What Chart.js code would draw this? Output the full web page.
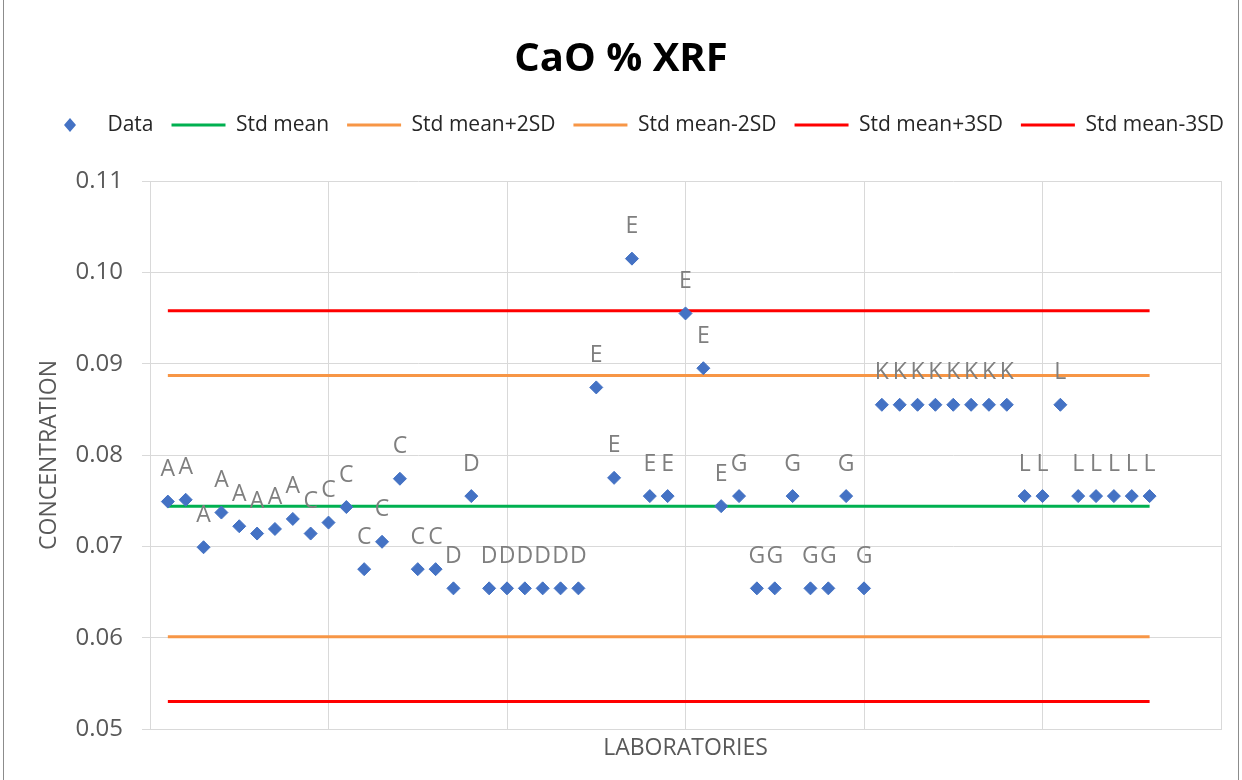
<!DOCTYPE html>
<html>
<head>
<meta charset="utf-8">
<script src="https://cdn.jsdelivr.net/npm/chart.js@4.4.0/dist/chart.umd.min.js"></script>
<style>
  html, body { margin: 0; padding: 0; background: #fff; }
</style>
</head>
<body>
<canvas id="myChart" width="1242" height="780"></canvas>
<script>
// lab code shown above each point
const labLetters = [
  "A", "A", "A", "A", "A", "A", "A", "A",
  "C", "C", "C", "C", "C", "C", "C", "C",
  "D", "D", "D", "D", "D", "D", "D", "D",
  "E", "E", "E", "E", "E", "E", "E", "E",
  "G", "G", "G", "G", "G", "G", "G", "G",
  "K", "K", "K", "K", "K", "K", "K", "K",
  "L", "L", "L", "L", "L", "L", "L", "L"
];

const concentration = [
  0.0749, 0.0751, 0.0699, 0.0737, 0.0722, 0.0714, 0.0719, 0.0730,
  0.0714, 0.0726, 0.0743, 0.0675, 0.0705, 0.0774, 0.0675, 0.0675,
  0.0654, 0.0755, 0.0654, 0.0654, 0.0654, 0.0654, 0.0654, 0.0654,
  0.0874, 0.0775, 0.1015, 0.0755, 0.0755, 0.0955, 0.0895, 0.0744,
  0.0755, 0.0654, 0.0654, 0.0755, 0.0654, 0.0654, 0.0755, 0.0654,
  0.0855, 0.0855, 0.0855, 0.0855, 0.0855, 0.0855, 0.0855, 0.0855,
  0.0755, 0.0755, 0.0855, 0.0755, 0.0755, 0.0755, 0.0755, 0.0755
];

const refNames = ["Std mean", "Std mean+2SD", "Std mean-2SD", "Std mean+3SD", "Std mean-3SD"];
const refValues = [0.0744, 0.0887, 0.0601, 0.0958, 0.0530];
const refColors = ["#00B050", "#F79646", "#F79646", "#FF0000", "#FF0000"];

const yMin = 0.05, yMax = 0.11, yStep = 0.01;
const xMin = 0, xMax = 60, xStep = 10;

const labelFont = '"Open Sans", "DejaVu Sans", sans-serif';

// x position of each result = its order number
const points = concentration.map((v, i) => ({ x: i + 1, y: v }));
const firstX = 1;
const lastX = concentration.length;

const datasets = [
  {
    label: "Data",
    data: points,
    showLine: false,
    pointStyle: "rectRot",
    pointRadius: 6.5,
    pointHoverRadius: 6.5,
    backgroundColor: "#4472C4",
    borderColor: "#4472C4",
    borderWidth: 1
  }
];

refNames.forEach((name, i) => {
  datasets.push({
    label: name,
    data: [{ x: firstX, y: refValues[i] }, { x: lastX, y: refValues[i] }],
    showLine: true,
    pointRadius: 0,
    borderColor: refColors[i],
    backgroundColor: refColors[i],
    borderWidth: 3,
    pointStyle: "line"
  });
});

// small diamond for the legend entry of the data
const diamond = document.createElement("canvas");
diamond.width = 14;
diamond.height = 16;
(function () {
  const c = diamond.getContext("2d");
  c.fillStyle = "#4472C4";
  c.beginPath();
  c.moveTo(7, 1);
  c.lineTo(13, 8);
  c.lineTo(7, 15);
  c.lineTo(1, 8);
  c.closePath();
  c.fill();
})();

const pointLabels = {
  id: "pointLabels",
  afterDatasetsDraw(chart) {
    const meta = chart.getDatasetMeta(0);
    const ctx = chart.ctx;
    ctx.save();
    ctx.font = "23px " + labelFont;
    ctx.fillStyle = "#7F7F7F";
    ctx.textAlign = "center";
    ctx.textBaseline = "middle";
    meta.data.forEach((pt, i) => {
      ctx.fillText(labLetters[i], pt.x, pt.y - 32);
    });
    ctx.restore();
  }
};

const frame = {
  id: "frame",
  beforeDraw(chart) {
    const ctx = chart.ctx;
    ctx.save();
    ctx.fillStyle = "#ffffff";
    ctx.fillRect(0, 0, chart.width, chart.height);
    ctx.strokeStyle = "#8C8C8C";
    ctx.lineWidth = 1;
    ctx.strokeRect(3.5, -1, chart.width - 7, chart.height + 2);
    ctx.restore();
  }
};

const ctx = document.getElementById("myChart").getContext("2d");

const chart = new Chart(ctx, {
  type: "scatter",
  data: { datasets: datasets },
  plugins: [pointLabels, frame],
  options: {
    responsive: false,
    animation: false,
    devicePixelRatio: 1,
    layout: { padding: 0 },
    plugins: {
      tooltip: { enabled: false },
      title: {
        display: true,
        text: "CaO % XRF",
        color: "#000000",
        font: { family: labelFont, size: 40, weight: "bold" },
        padding: { top: 36, bottom: 12.5 }
      },
      subtitle: {
        display: true,
        text: "",
        weight: 500,
        font: { size: 10 },
        padding: { top: 23.5, bottom: 0 }
      },
      legend: {
        display: true,
        position: "top",
        align: "end",
        labels: {
          usePointStyle: true,
          pointStyleWidth: 54,
          padding: 18,
          color: "#262626",
          font: { family: labelFont, size: 21 },
          generateLabels(chart) {
            const items = Chart.defaults.plugins.legend.labels.generateLabels(chart);
            items.forEach((it, i) => {
              if (i === 0) {
                it.pointStyle = diamond;
              } else {
                it.pointStyle = "line";
                it.lineWidth = 3;
                it.strokeStyle = refColors[i - 1];
              }
            });
            return items;
          }
        }
      }
    },
    scales: {
      x: {
        type: "linear",
        min: xMin,
        max: xMax,
        ticks: { display: false, stepSize: xStep },
        grid: { color: "#D9D9D9", drawTicks: false },
        border: { color: "#D9D9D9" },
        title: {
          display: true,
          text: "LABORATORIES",
          color: "#595959",
          font: { family: labelFont, size: 23 },
          padding: { top: 0, bottom: 18 }
        },
        afterFit(scale) { scale.height = 51; }
      },
      y: {
        type: "linear",
        min: yMin,
        max: yMax,
        ticks: {
          stepSize: yStep,
          padding: 19,
          color: "#595959",
          font: { family: labelFont, size: 24 },
          callback: (v) => v.toFixed(2)
        },
        grid: { color: "#D9D9D9", tickLength: 8 },
        border: { color: "#D9D9D9" },
        title: {
          display: true,
          text: "CONCENTRATION",
          color: "#595959",
          font: { family: labelFont, size: 23 },
          padding: { top: 36, bottom: 0 }
        },
        afterFit(scale) { scale.width = 150; }
      },
      // empty right margin so title stays centred on the page
      yRight: {
        type: "linear",
        position: "right",
        ticks: { display: false },
        grid: { display: false },
        border: { display: false },
        afterFit(scale) { scale.width = 21; }
      }
    }
  }
});
</script>
</body>
</html>
